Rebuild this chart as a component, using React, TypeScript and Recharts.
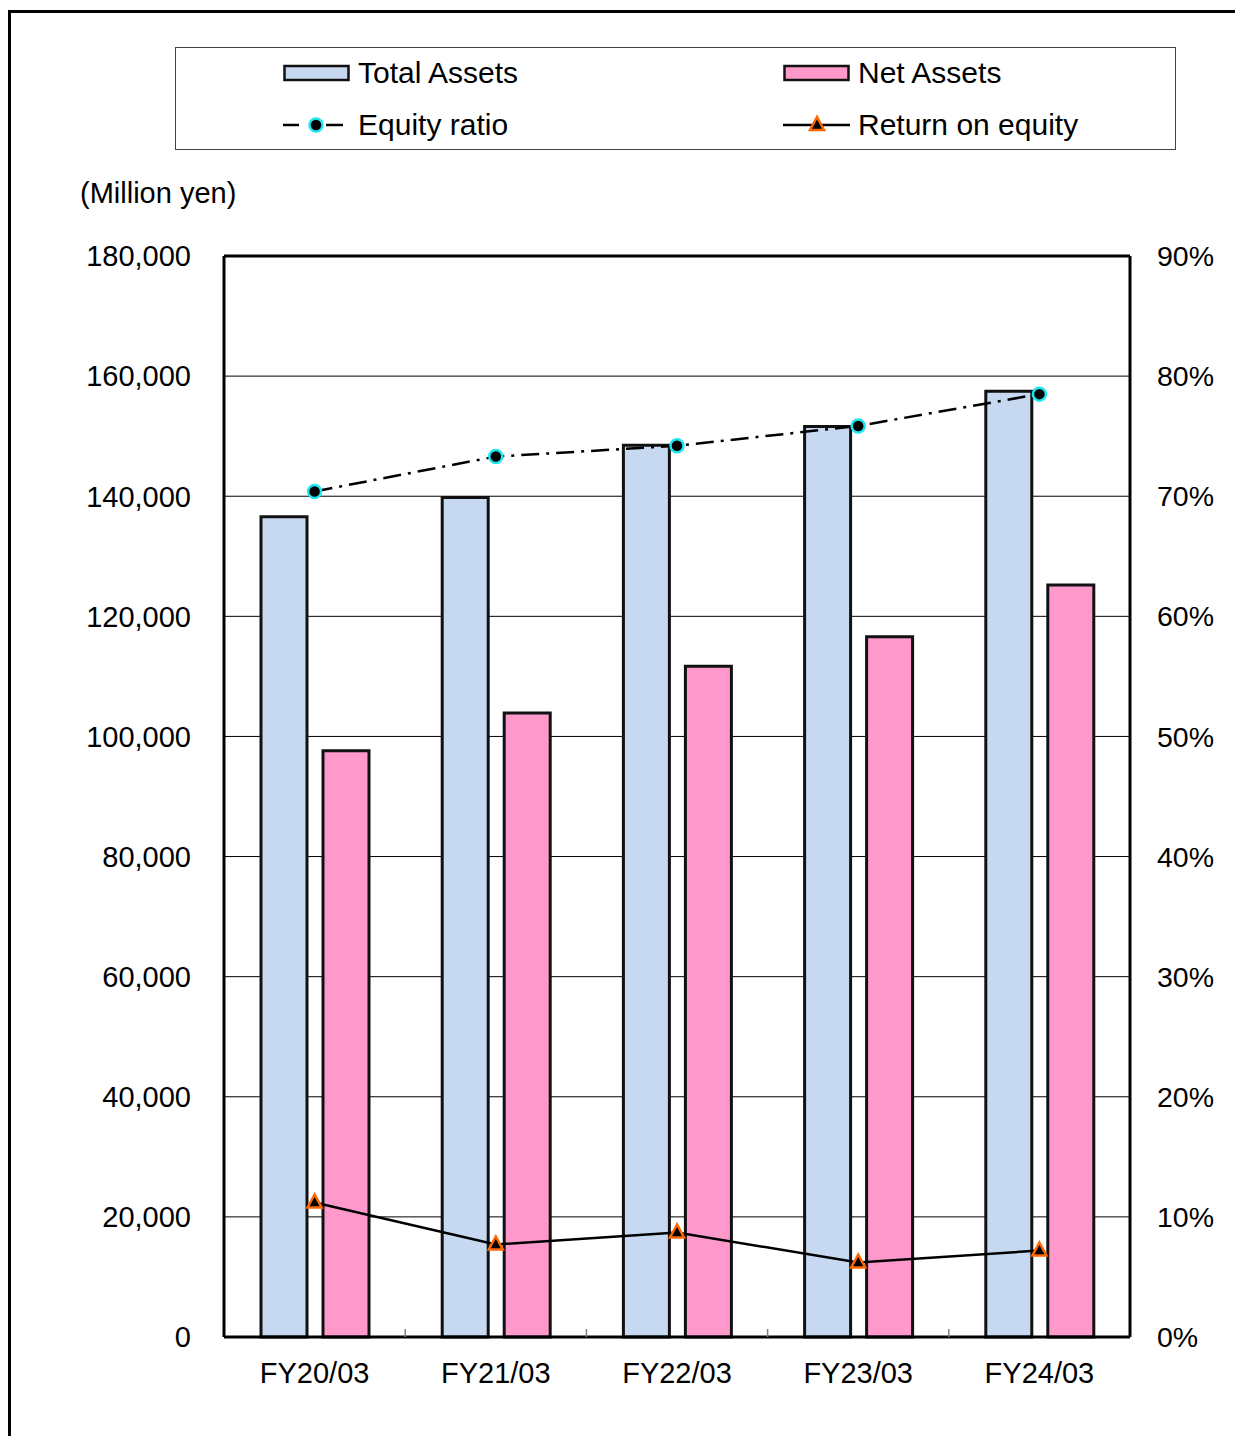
import React from 'react'
import {
  ComposedChart,
  Bar,
  Line,
  XAxis,
  YAxis,
  CartesianGrid,
  Legend,
  ReferenceLine,
} from 'recharts'

const years = ['FY20/03', 'FY21/03', 'FY22/03', 'FY23/03', 'FY24/03']
const totalAssets = [136600, 139800, 148500, 151600, 157500]
const netAssets = [97600, 103900, 111700, 116600, 125200]
const equityRatio = [70.4, 73.3, 74.2, 75.85, 78.5]
const roe = [11.2, 7.7, 8.7, 6.2, 7.2]
const leftTicks = [0, 20000, 40000, 60000, 80000, 100000, 120000, 140000, 160000, 180000]
const rightTicks = [0, 10, 20, 30, 40, 50, 60, 70, 80, 90]
const LEFT_MAX = 180000

const data = years.map((name, i) => ({
  name,
  total: totalAssets[i],
  net: netAssets[i],
  equity: equityRatio[i],
  roe: roe[i],
}))

const FONT = '"Liberation Sans", Arial, sans-serif'
const TOTAL_FILL = '#C6D9F1'
const NET_FILL = '#FF99CC'
const BAR_STROKE = '#111'
const CYAN = '#1EE6F0'
const ORANGE = '#FF6600'
const DASH = '18 7 3 7'
const X_TICK_MARGIN = 25

const tickStyle = { fontSize: 29, fill: '#000', fontFamily: FONT }

function CircleDot(props: any) {
  const { cx, cy } = props
  if (cx == null || cy == null) return null
  return <circle cx={cx} cy={cy} r={6.5} fill="#000" stroke={CYAN} strokeWidth={2.5} />
}

function TriangleDot(props: any) {
  const { cx, cy } = props
  if (cx == null || cy == null) return null
  return (
    <polygon
      points={`${cx},${cy - 8} ${cx - 7},${cy + 5} ${cx + 7},${cy + 5}`}
      fill="#000"
      stroke={ORANGE}
      strokeWidth={2.5}
    />
  )
}

// category label plus the small inward tick mark at the right edge of each band
function CategoryTick(props: any) {
  const { x, y, payload, index } = props
  const half = payload?.offset ?? 0
  const axisY = y - X_TICK_MARGIN
  const last = index === years.length - 1
  return (
    <g>
      {!last && half > 0 && (
        <line x1={x + half} x2={x + half} y1={axisY} y2={axisY - 8} stroke="#808080" strokeWidth={1.5} />
      )}
      <text x={x} y={y} dy="0.71em" textAnchor="middle" {...tickStyle}>
        {payload.value}
      </text>
    </g>
  )
}

function LegendBox() {
  const text: React.CSSProperties = {
    fontSize: 30,
    fontFamily: FONT,
    color: '#000',
    lineHeight: 1,
    whiteSpace: 'nowrap',
  }
  const row = (top: number, left: number, icon: React.ReactNode, label: string) => (
    <div
      style={{ position: 'absolute', top: top - 15, left, height: 30, display: 'flex', alignItems: 'center' }}
    >
      <svg width={67} height={30} style={{ display: 'block', marginRight: 8 }}>
        {icon}
      </svg>
      <span style={text}>{label}</span>
    </div>
  )
  return (
    <div
      style={{
        position: 'relative',
        width: 1001,
        height: 103,
        border: '1.5px solid #444',
        boxSizing: 'border-box',
        background: '#fff',
      }}
    >
      {row(
        25,
        107,
        <rect x={1.5} y={8} width={64} height={14} fill={TOTAL_FILL} stroke={BAR_STROKE} strokeWidth={2.5} />,
        'Total Assets'
      )}
      {row(
        25,
        607,
        <rect x={1.5} y={8} width={64} height={14} fill={NET_FILL} stroke={BAR_STROKE} strokeWidth={2.5} />,
        'Net Assets'
      )}
      {row(
        77,
        107,
        <g>
          <line x1={0} y1={15} x2={16} y2={15} stroke="#000" strokeWidth={2.5} />
          <line x1={43} y1={15} x2={60} y2={15} stroke="#000" strokeWidth={2.5} />
          <circle cx={33} cy={15} r={6.5} fill="#000" stroke={CYAN} strokeWidth={2.5} />
        </g>,
        'Equity ratio'
      )}
      {row(
        77,
        607,
        <g>
          <line x1={0} y1={15} x2={67} y2={15} stroke="#000" strokeWidth={2.5} />
          <polygon points="34,7 27,20 41,20" fill="#000" stroke={ORANGE} strokeWidth={2.5} />
        </g>,
        'Return on equity'
      )}
    </div>
  )
}

function UnitLabel(props: any) {
  const { viewBox } = props
  if (!viewBox) return null
  return (
    <text x={viewBox.x + 72} y={viewBox.y - 53} fontSize={29} fontFamily={FONT} fill="#000">
      (Million yen)
    </text>
  )
}

export default function App() {
  return (
    <div style={{ position: 'relative', width: 1235, height: 1428, overflow: 'hidden' }}>
      {/* outer frame, right/bottom edges fall off the page */}
      <div
        style={{
          position: 'absolute',
          left: 0,
          top: 2,
          width: 1260,
          height: 1460,
          borderLeft: '3px solid #000',
          borderTop: '3px solid #000',
        }}
      />
      <ComposedChart
        width={1235}
        height={1428}
        data={data}
        margin={{ top: 248, right: 0, bottom: 39, left: 0 }}
        barGap={16}
        style={{ position: 'absolute', left: 0, top: 0 }}
      >
        <CartesianGrid vertical={false} stroke="#000" strokeWidth={1} yAxisId="left" />
        <XAxis
          dataKey="name"
          height={60}
          tick={<CategoryTick />}
          tickLine={false}
          tickSize={0}
          tickMargin={X_TICK_MARGIN}
          axisLine={{ stroke: '#000', strokeWidth: 3 }}
          interval={0}
        />
        <YAxis
          yAxisId="left"
          width={216}
          domain={[0, LEFT_MAX]}
          ticks={leftTicks}
          tick={tickStyle}
          tickLine={false}
          tickSize={0}
          tickMargin={33}
          tickFormatter={(v: number) => v.toLocaleString('en-US')}
          axisLine={{ stroke: '#000', strokeWidth: 3 }}
          label={<UnitLabel />}
        />
        <YAxis
          yAxisId="right"
          orientation="right"
          width={113}
          domain={[0, 90]}
          ticks={rightTicks}
          tick={{ ...tickStyle, fontSize: 28.5, textAnchor: 'start' }}
          tickLine={false}
          tickSize={0}
          tickMargin={27}
          tickFormatter={(v: number) => `${v}%`}
          axisLine={{ stroke: '#000', strokeWidth: 3 }}
        />
        <Legend
          verticalAlign="middle"
          align="center"
          content={() => <LegendBox />}
          wrapperStyle={{ position: 'absolute', left: 167, top: 39, width: 1001, height: 103 }}
        />
        <Bar
          dataKey="total"
          name="Total Assets"
          yAxisId="left"
          barSize={46}
          fill={TOTAL_FILL}
          stroke={BAR_STROKE}
          strokeWidth={3}
          isAnimationActive={false}
        />
        <Bar
          dataKey="net"
          name="Net Assets"
          yAxisId="left"
          barSize={46}
          fill={NET_FILL}
          stroke={BAR_STROKE}
          strokeWidth={3}
          isAnimationActive={false}
        />
        {/* top edge of the plot frame */}
        <ReferenceLine y={LEFT_MAX} yAxisId="left" stroke="#000" strokeWidth={3} />
        <Line
          dataKey="equity"
          name="Equity ratio"
          yAxisId="right"
          type="linear"
          stroke="#000"
          strokeWidth={2.5}
          strokeDasharray={DASH}
          dot={<CircleDot />}
          activeDot={false}
          isAnimationActive={false}
        />
        <Line
          dataKey="roe"
          name="Return on equity"
          yAxisId="right"
          type="linear"
          stroke="#000"
          strokeWidth={2.5}
          dot={<TriangleDot />}
          activeDot={false}
          isAnimationActive={false}
        />
      </ComposedChart>
    </div>
  )
}
